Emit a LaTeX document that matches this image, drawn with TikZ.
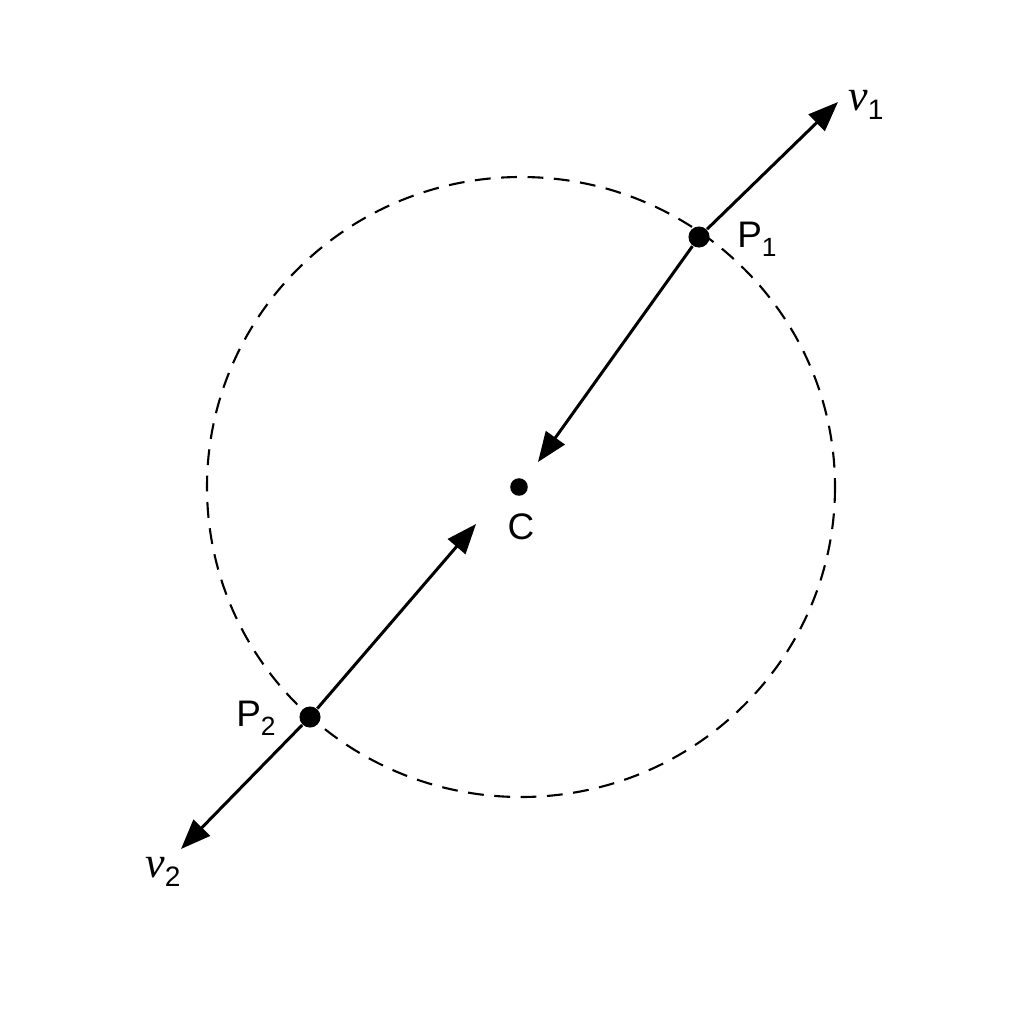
\documentclass[tikz,border=0pt]{standalone}
\usepackage{fontspec}
\setmainfont{Liberation Sans}
\newfontfamily\vecfont{Liberation Serif}
\usetikzlibrary{arrows.meta}

\newcommand{\vlabel}[1]{{\vecfont\itshape\fontsize{12.5}{14}\selectfont v}\raisebox{-0.45ex}{\fontsize{8}{9}\selectfont #1}}
\newcommand{\plabel}[2]{#1\raisebox{-0.45ex}{\fontsize{7.5}{8}\selectfont #2}}

\begin{document}
\begin{tikzpicture}[x=0.01cm, y=-0.01cm,
	dot/.style={circle, fill=black, inner sep=0pt, minimum size=#1},
	vec/.style={draw, -{Triangle[length=8.5pt, width=6.5pt]}, line width=0.85pt},
	lbl/.style={font=\fontsize{10.5}{12}\selectfont}]
	\useasboundingbox (0,0) rectangle (1024,1024);
	% dashed orbit
	\draw[line width=0.6pt, dash pattern=on 4.5pt off 3pt] (521,487) ellipse [x radius=314, y radius=310];
	% points
	\node[dot=5pt] (c) at (519,487) {};
	\node[dot=6pt] (p1) at (699,237) {};
	\node[dot=6pt] (p2) at (310,717) {};
	\coordinate (v1) at (838,102);
	\coordinate (v2) at (181,849);
	\coordinate (c1) at (538,462);
	\coordinate (c2) at (476,524);
	% vectors
	\draw[vec] (p1) -- (v1);
	\draw[vec] (p1) -- (c1);
	\draw[vec] (p2) -- (c2);
	\draw[vec] (p2) -- (v2);
	% labels
	\node[lbl] (clbl) at (521,527) {C};
	\node[lbl] (p1lbl) at (757,239) {\plabel{P}{1}};
	\node[lbl] (p2lbl) at (256,718) {\plabel{P}{2}};
	\node[lbl] (v1lbl) at (866,105) {\vlabel{1}};
	\node[lbl] (v2lbl) at (163,872) {\vlabel{2}};
\end{tikzpicture}
\end{document}
